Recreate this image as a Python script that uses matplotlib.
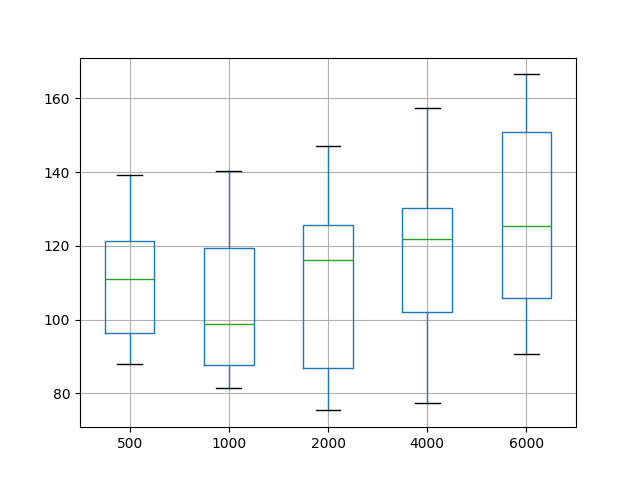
import matplotlib
matplotlib.use("Agg")
import matplotlib.pyplot as plt

# box statistics
labels = ["500", "1000", "2000", "4000", "6000"]
whislo = [87.9, 81.6, 75.4, 77.3, 90.6]
q1 = [96.5, 87.6, 86.8, 102.2, 106.0]
med = [110.9, 98.7, 116.3, 122.0, 125.3]
q3 = [121.2, 119.3, 125.6, 130.2, 151.0]
whishi = [139.1, 140.2, 147.0, 157.3, 166.5]

stats = []
for i in range(len(labels)):
    stats.append({"label": labels[i], "whislo": whislo[i], "q1": q1[i],
                  "med": med[i], "q3": q3[i], "whishi": whishi[i], "fliers": []})

fig, ax = plt.subplots(figsize=(6.4, 4.8), dpi=100)
ax.bxp(stats,
       boxprops=dict(color="C0"),
       whiskerprops=dict(color="C0"),
       medianprops=dict(color="C2"),
       capprops=dict(color="k"))
ax.grid(True)
fig.savefig("out.png")
